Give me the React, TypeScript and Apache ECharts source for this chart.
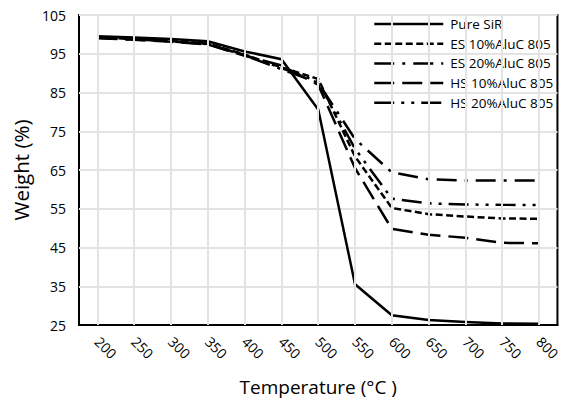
import React, { useEffect, useRef } from "react";
import * as echarts from "echarts";

const temperatures = ["200", "250", "300", "350", "400", "450", "500", "550", "600", "650", "700", "750", "800"];
const pureSiR = [99.5, 99.2, 98.8, 98.2, 95.6, 93.6, 80.6, 35.5, 27.5, 26.3, 25.8, 25.4, 25.3];
const es10 = [99.2, 98.8, 98.3, 97.6, 94.8, 91.5, 88.5, 68.5, 55.2, 53.6, 53.0, 52.5, 52.4];
const es20 = [99.1, 98.7, 98.2, 97.5, 94.6, 91.0, 87.5, 73.0, 64.4, 62.6, 62.3, 62.3, 62.3];
const hs10 = [99.0, 98.6, 98.1, 97.4, 94.5, 92.0, 87.0, 65.5, 49.8, 48.3, 47.5, 46.2, 46.1];
const hs20 = [99.2, 98.8, 98.3, 97.6, 94.7, 91.3, 87.8, 70.5, 57.6, 56.4, 56.1, 56.0, 56.0];
const seriesNames = ["Pure SiR", "ES 10%AluC 805", "ES 20%AluC 805", "HS 10%AluC 805", "HS 20%AluC 805"];
const yBase = 25;
const yTop = 105;

const FONT = "'Open Sans', sans-serif";

export default function App() {
  const ref = useRef<HTMLDivElement>(null);
  useEffect(() => {
    if (!ref.current) return;
    const chart = echarts.init(ref.current, null, { renderer: "svg" });
    const shift = (arr: number[]) => arr.map((v) => +(v - yBase).toFixed(2));
    const dashes: any[] = [
      "solid",
      [7, 3.5],
      [20, 8, 3, 8],
      [20, 8],
      [20, 7, 3, 7, 3, 7],
    ];
    const datasets = [pureSiR, es10, es20, hs10, hs20];
    const lineSeries = datasets.map((d, i) => ({
      name: seriesNames[i],
      type: "line",
      data: shift(d),
      symbol: "none",
      showSymbol: false,
      z: 3,
      lineStyle: { color: "#000", width: 2.5, type: dashes[i], cap: "butt", join: "miter" },
      itemStyle: { color: "#000" },
    }));
    chart.setOption({
      animation: false,
      grid: {
        left: 79,
        right: 3,
        top: 15,
        bottom: 74,
        show: true,
        borderColor: "#000",
        borderWidth: 2,
      },
      legend: {
        orient: "vertical",
        left: 373,
        top: 17,
        padding: 0,
        itemWidth: 69,
        itemHeight: 14,
        itemGap: 5.7,
        data: seriesNames,
        itemStyle: { opacity: 0 },
        lineStyle: { width: "inherit" },
        textStyle: { fontFamily: FONT, fontSize: 13.5, color: "#000", padding: [0, 0, 0, 2] },
      },
      xAxis: {
        type: "category",
        data: temperatures,
        boundaryGap: true,
        name: "Temperature (°C )",
        nameLocation: "middle",
        nameGap: 52,
        nameTextStyle: { fontFamily: FONT, fontSize: 19, color: "#000" },
        axisLine: { show: true, lineStyle: { color: "#000", width: 2 } },
        axisTick: { show: false },
        splitLine: { show: false },
        axisLabel: {
          rotate: -45,
          margin: 14,
          fontFamily: FONT,
          fontSize: 14,
          color: "#000",
        },
      },
      yAxis: {
        type: "value",
        min: 0,
        max: yTop - yBase,
        interval: 10,
        name: "Weight (%)",
        nameLocation: "middle",
        nameGap: 47,
        nameTextStyle: { fontFamily: FONT, fontSize: 20.5, color: "#000" },
        axisLine: { show: false },
        axisTick: { show: false },
        splitLine: { show: true, lineStyle: { color: "#e3e3e3", width: 2 } },
        axisLabel: {
          margin: 13,
          fontFamily: FONT,
          fontSize: 14,
          color: "#000",
          formatter: (v: number) => String(v + yBase),
        },
      },
      series: [
        {
          name: "grid-v",
          type: "line",
          data: shift(pureSiR),
          symbol: "none",
          silent: true,
          z: 1,
          lineStyle: { opacity: 0 },
          markLine: {
            silent: true,
            symbol: "none",
            animation: false,
            label: { show: false },
            lineStyle: { color: "#e3e3e3", width: 2, type: "solid" },
            data: temperatures.map((t) => ({ xAxis: t })),
          },
        },
        ...lineSeries,
      ],
    });
    return () => chart.dispose();
  }, []);
  return <div ref={ref} style={{ width: 563, height: 401, position: "absolute", left: 0, top: 0 }} />;
}
